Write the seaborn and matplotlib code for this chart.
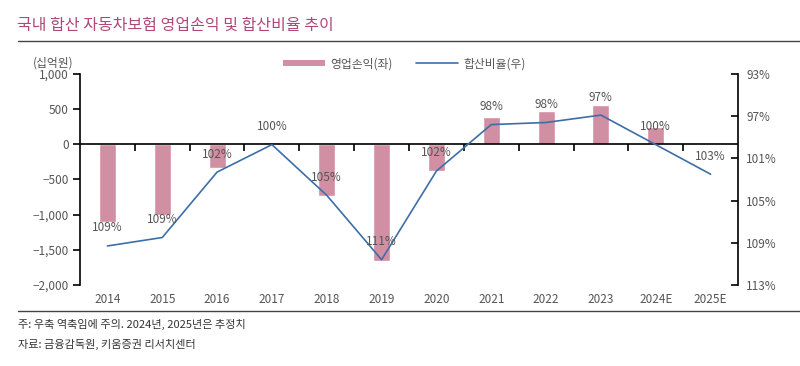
import numpy as np
import pandas as pd
import matplotlib
matplotlib.use("Agg")
import matplotlib.pyplot as plt
import seaborn as sns
from matplotlib.ticker import FuncFormatter
from matplotlib.patches import Patch
from matplotlib.lines import Line2D

# Data
years = ["2014", "2015", "2016", "2017", "2018", "2019", "2020", "2021", "2022", "2023", "2024E", "2025E"]
op_profit = [-1100, -1000, -340, 30, -730, -1655, -375, 392, 473, 558, 250, np.nan]
combined_ratio = [109.3, 108.5, 102.3, 99.7, 104.5, 110.6, 102.2, 97.8, 97.6, 96.9, 99.7, 102.5]
ratio_labels = ["109%", "109%", "102%", "100%", "105%", "111%", "102%", "98%", "98%", "97%", "100%", "103%"]

df = pd.DataFrame({"Year": years, "Profit": op_profit, "Ratio": combined_ratio})

sns.set_style("white")
plt.rcParams["font.family"] = ["Noto Sans CJK KR", "DejaVu Sans"]

bar_color = "#d18fa4"
line_color = "#3d6ea6"
text_color = "#555555"

fig = plt.figure(figsize=(8, 3.66), dpi=100)
ax = fig.add_axes([0.1, 0.2213, 0.8225, 0.5767])

# operating profit bars (left axis)
sns.barplot(data=df, x="Year", y="Profit", color=bar_color, width=0.31, ax=ax, saturation=1)
ax.set_xlim(-0.5, 11.5)
ax.set_ylim(-2000, 1000)
ax.set_yticks([1000, 500, 0, -500, -1000, -1500, -2000])
ax.yaxis.set_major_formatter(FuncFormatter(lambda v, p: f"{v:,.0f}".replace("-", "−")))
ax.set_xlabel("")
ax.set_ylabel("")
for s in ["top", "bottom", "right"]:
    ax.spines[s].set_visible(False)
ax.spines["left"].set_color("black")
ax.spines["left"].set_linewidth(1.2)
ax.tick_params(axis="y", left=True, direction="out", length=5, width=1.2, color="black",
               labelsize=8.5, labelcolor=text_color, pad=3)
ax.tick_params(axis="x", length=0, labelsize=8.5, labelcolor=text_color, pad=6)

# zero line with category separator ticks
ax.axhline(0, color="black", linewidth=1.2, zorder=5)
boundaries = np.arange(0.5, 11.5, 1.0)
ax.plot(boundaries, np.zeros_like(boundaries), linestyle="none", marker=3, markersize=5,
        markeredgewidth=1.2, color="black", zorder=5)

# combined ratio, inverted right axis
ax2 = ax.twinx()
sns.lineplot(data=df, x="Year", y="Ratio", color=line_color, linewidth=1.2, sort=False, ax=ax2)
ax2.set_ylim(113, 93)
ax2.set_yticks([93, 97, 101, 105, 109, 113])
ax2.yaxis.set_major_formatter(FuncFormatter(lambda v, p: f"{v:.0f}%"))
ax2.set_ylabel("")
ax2.set_xlabel("")
for s in ["top", "bottom", "left"]:
    ax2.spines[s].set_visible(False)
ax2.spines["right"].set_color("black")
ax2.spines["right"].set_linewidth(1.2)
ax2.tick_params(axis="y", right=True, direction="in", length=5, width=1.2, color="black",
                labelsize=8.5, labelcolor=text_color, pad=6)

for i, (r, lab) in enumerate(zip(combined_ratio, ratio_labels)):
    ax2.annotate(lab, (i, r), xytext=(0, 13), textcoords="offset points",
                 ha="center", va="center", fontsize=8.5, color=text_color)

# title and decorations
fig.text(0.021, 0.93, "국내 합산 자동차보험 영업손익 및 합산비율 추이", fontsize=11.5, color="#b0477a", va="center", ha="left")
fig.add_artist(Line2D([0.022, 1.0], [0.888, 0.888], color="#444444", linewidth=1.0))
fig.text(0.066, 0.828, "(십억원)", fontsize=8.5, color=text_color, ha="center", va="center")

handles = [Patch(facecolor=bar_color, edgecolor="none"), Line2D([0], [0], color=line_color, linewidth=1.2)]
fig.legend(handles, ["영업손익(좌)", "합산비율(우)"], loc="center", bbox_to_anchor=(0.505, 0.826), ncol=2,
           frameon=False, fontsize=8.5, labelcolor=text_color, handlelength=3.6, handleheight=0.5,
           columnspacing=2.0, handletextpad=0.4)

fig.add_artist(Line2D([0.022, 1.0], [0.15, 0.15], color="#444444", linewidth=1.0))
fig.text(0.022, 0.113, "주: 우축 역축임에 주의. 2024년, 2025년은 추정치", fontsize=8, color="#333333", va="center")
fig.text(0.022, 0.058, "자료: 금융감독원, 키움증권 리서치센터", fontsize=8, color="#333333", va="center")

fig.savefig("out.png", dpi=100)
